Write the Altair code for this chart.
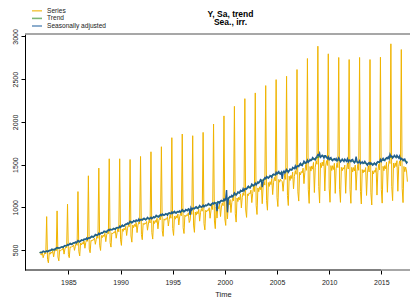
import altair as alt
import pandas as pd

FIRST_YEAR = 1982
FIRST_MONTH = 4  # series starts April 1982, ends July 2017

series_rows = [
    [465, 455, 440, 470, 410, 445, 470, 455, 891],
    [390, 350, 470, 451, 477, 462, 493, 420, 476, 505, 489, 958],
    [418, 373, 504, 492, 502, 502, 529, 452, 512, 537, 525, 1036],
    [446, 410, 537, 529, 542, 541, 561, 496, 544, 583, 555, 1184],
    [484, 431, 581, 559, 587, 569, 606, 521, 588, 615, 602, 1369],
    [510, 468, 613, 605, 619, 618, 640, 567, 623, 668, 637, 1459],
    [556, 495, 670, 644, 676, 657, 696, 598, 675, 706, 691, 1568],
    [586, 534, 701, 690, 707, 702, 728, 638, 702, 751, 714, 1568],
    [620, 554, 746, 718, 755, 735, 778, 670, 755, 790, 773, 1560],
    [664, 592, 793, 762, 800, 774, 821, 704, 791, 827, 807, 1595],
    [682, 621, 812, 797, 815, 807, 834, 732, 804, 858, 816, 1650],
    [704, 628, 842, 810, 847, 823, 871, 748, 841, 878, 855, 1709],
    [725, 660, 865, 848, 868, 861, 890, 781, 857, 915, 872, 1815],
    [752, 671, 897, 861, 901, 874, 923, 793, 889, 927, 901, 1858],
    [762, 693, 908, 891, 912, 904, 936, 822, 846, 962, 917, 1838],
    [792, 707, 945, 909, 950, 924, 976, 838, 939, 984, 955, 1877],
    [810, 736, 965, 946, 969, 962, 995, 872, 958, 1023, 974, 1975],
    [840, 750, 1005, 874, 1011, 982, 1038, 892, 1003, 1049, 1019, 2070],
    [864, 788, 1140, 865, 1055, 1028, 1091, 939, 1056, 1105, 1076, 2182],
    [924, 827, 1110, 1067, 1119, 1088, 1154, 993, 1116, 1168, 1139, 2272],
    [968, 882, 1157, 1137, 1169, 1158, 1201, 1055, 1163, 1241, 1184, 2339],
    [1024, 916, 1227, 1183, 1240, 1207, 1277, 1042, 1237, 1294, 1260, 2425],
    [1080, 966, 1290, 1244, 1300, 1265, 1335, 1149, 1287, 1350, 1308, 2495],
    [1114, 1009, 1326, 1294, 1328, 1311, 1300, 1188, 1309, 1392, 1327, 2534],
    [1139, 1021, 1364, 1314, 1374, 1337, 1412, 1216, 1363, 1429, 1387, 2613],
    [1181, 1073, 1410, 1380, 1419, 1404, 1459, 1277, 1408, 1499, 1433, 2742],
    [1205, 1046, 1477, 1424, 1484, 1447, 1525, 1173, 1469, 1541, 1504, 2886],
    [1244, 1050, 1520, 1465, 1530, 1484, 1556, 1191, 1484, 1546, 1490, 2797],
    [1225, 1059, 1488, 1431, 1487, 1443, 1515, 1163, 1451, 1517, 1465, 2754],
    [1206, 1058, 1468, 1428, 1465, 1446, 1494, 1164, 1436, 1519, 1448, 2730],
    [1209, 1047, 1468, 1413, 1465, 1425, 1494, 1200, 1421, 1503, 1433, 2754],
    [1186, 1039, 1442, 1402, 1438, 1414, 1465, 1139, 1401, 1484, 1414, 2730],
    [1170, 1027, 1427, 1391, 1431, 1410, 1465, 1143, 1412, 1503, 1438, 2757],
    [1209, 1049, 1480, 1428, 1488, 1451, 1528, 1176, 1471, 1544, 1513, 2914],
    [1245, 1078, 1518, 1463, 1520, 1477, 1546, 1188, 1477, 1543, 1483, 2847],
    [1221, 1055, 1478, 1417, 1471, 1425, 1300],
]

trend_rows = [
    [470, 472, 474, 476, 478, 480, 481, 483, 484],
    [485, 488, 491, 494, 497, 500, 503, 506, 509, 512, 515, 518],
    [520, 523, 527, 530, 533, 537, 540, 543, 547, 550, 553, 557],
    [560, 563, 567, 570, 573, 577, 580, 583, 587, 590, 593, 597],
    [600, 603, 607, 610, 613, 617, 620, 623, 627, 630, 633, 637],
    [640, 644, 648, 652, 656, 660, 665, 669, 673, 677, 681, 686],
    [690, 694, 698, 702, 705, 709, 713, 717, 720, 724, 728, 731],
    [735, 738, 741, 744, 747, 750, 753, 755, 758, 761, 764, 767],
    [770, 775, 779, 784, 788, 793, 797, 802, 806, 811, 815, 820],
    [825, 828, 830, 833, 835, 838, 840, 843, 845, 848, 850, 853],
    [855, 857, 858, 860, 862, 863, 865, 867, 868, 870, 872, 873],
    [875, 878, 881, 884, 887, 890, 893, 895, 898, 901, 904, 907],
    [910, 912, 914, 916, 918, 920, 923, 925, 927, 929, 931, 933],
    [935, 937, 938, 940, 942, 943, 945, 947, 948, 950, 952, 953],
    [955, 958, 960, 963, 965, 968, 970, 973, 975, 978, 980, 983],
    [985, 988, 990, 993, 995, 998, 1000, 1003, 1005, 1008, 1010, 1013],
    [1015, 1018, 1020, 1023, 1025, 1028, 1030, 1033, 1035, 1038, 1040, 1043],
    [1045, 1048, 1052, 1055, 1058, 1062, 1065, 1068, 1072, 1075, 1078, 1082],
    [1085, 1090, 1096, 1101, 1107, 1112, 1118, 1123, 1128, 1134, 1139, 1145],
    [1150, 1155, 1161, 1166, 1172, 1177, 1183, 1188, 1193, 1199, 1204, 1210],
    [1215, 1220, 1225, 1230, 1235, 1240, 1245, 1250, 1255, 1260, 1265, 1270],
    [1275, 1281, 1287, 1292, 1298, 1304, 1310, 1316, 1322, 1327, 1333, 1339],
    [1345, 1349, 1353, 1357, 1362, 1366, 1370, 1374, 1378, 1383, 1387, 1391],
    [1395, 1397, 1399, 1401, 1403, 1405, 1408, 1410, 1412, 1414, 1416, 1418],
    [1420, 1425, 1430, 1435, 1440, 1445, 1450, 1455, 1460, 1465, 1470, 1475],
    [1480, 1485, 1490, 1495, 1500, 1505, 1510, 1515, 1520, 1525, 1530, 1535],
    [1540, 1544, 1548, 1553, 1557, 1561, 1565, 1569, 1573, 1578, 1582, 1586],
    [1590, 1594, 1597, 1599, 1600, 1600, 1598, 1595, 1590, 1584, 1578, 1571],
    [1565, 1563, 1562, 1561, 1560, 1559, 1558, 1557, 1556, 1554, 1553, 1552],
    [1550, 1550, 1549, 1549, 1548, 1548, 1547, 1547, 1546, 1546, 1545, 1545],
    [1545, 1543, 1542, 1540, 1538, 1537, 1535, 1533, 1532, 1530, 1528, 1527],
    [1525, 1523, 1522, 1520, 1518, 1517, 1515, 1513, 1512, 1510, 1508, 1507],
    [1505, 1506, 1507, 1508, 1510, 1512, 1515, 1519, 1523, 1528, 1534, 1540],
    [1545, 1549, 1553, 1557, 1561, 1565, 1569, 1573, 1577, 1581, 1585, 1588],
    [1590, 1592, 1593, 1594, 1594, 1593, 1591, 1588, 1584, 1579, 1573, 1566],
    [1560, 1555, 1550, 1545, 1540, 1535, 1530],
]

sa_rows = [
    [477, 470, 468, 477, 487, 483, 477, 482, 490],
    [479, 487, 496, 491, 499, 510, 506, 502, 501, 514, 522, 530],
    [527, 524, 522, 528, 537, 536, 530, 547, 552, 551, 549, 565],
    [557, 569, 578, 566, 565, 579, 586, 582, 594, 584, 597, 611],
    [605, 595, 605, 618, 614, 611, 629, 626, 623, 641, 626, 641],
    [643, 639, 656, 663, 654, 650, 667, 683, 678, 671, 679, 696],
    [682, 692, 704, 698, 707, 722, 717, 711, 709, 727, 737, 729],
    [745, 740, 734, 741, 753, 748, 740, 760, 765, 762, 759, 778],
    [766, 783, 793, 779, 778, 796, 804, 800, 815, 803, 820, 838],
    [831, 817, 827, 843, 837, 831, 852, 847, 840, 862, 841, 858],
    [859, 852, 867, 873, 859, 852, 867, 883, 873, 863, 870, 884],
    [865, 876, 889, 879, 890, 906, 898, 888, 884, 905, 915, 904],
    [922, 914, 905, 912, 925, 918, 907, 931, 936, 930, 925, 947],
    [931, 946, 953, 934, 931, 946, 953, 945, 958, 941, 957, 973],
    [962, 946, 957, 974, 967, 960, 983, 977, 910, 993, 970, 989],
    [989, 982, 1000, 1007, 992, 986, 1002, 1021, 1011, 1000, 1008, 1025],
    [1005, 1016, 1028, 1018, 1028, 1044, 1035, 1026, 1021, 1042, 1051, 1040],
    [1057, 1050, 1043, 955, 1065, 1060, 1049, 1074, 1081, 1076, 1072, 1096],
    [1080, 1101, 1201, 941, 1094, 1116, 1128, 1121, 1140, 1123, 1145, 1169],
    [1158, 1141, 1157, 1179, 1174, 1167, 1199, 1193, 1187, 1217, 1192, 1217],
    [1220, 1213, 1237, 1247, 1231, 1226, 1247, 1272, 1262, 1250, 1263, 1284],
    [1262, 1278, 1297, 1285, 1302, 1325, 1317, 1236, 1304, 1332, 1347, 1335],
    [1361, 1352, 1341, 1352, 1371, 1363, 1349, 1382, 1390, 1384, 1379, 1409],
    [1390, 1409, 1419, 1393, 1389, 1409, 1333, 1407, 1425, 1402, 1423, 1444],
    [1429, 1409, 1426, 1449, 1443, 1435, 1467, 1460, 1453, 1485, 1457, 1483],
    [1486, 1477, 1504, 1515, 1496, 1488, 1513, 1540, 1528, 1514, 1527, 1552],
    [1526, 1541, 1559, 1546, 1561, 1583, 1572, 1559, 1553, 1584, 1597, 1616],
    [1607, 1634, 1584, 1593, 1610, 1597, 1576, 1603, 1603, 1585, 1570, 1591],
    [1559, 1576, 1583, 1553, 1545, 1563, 1569, 1554, 1570, 1541, 1560, 1580],
    [1560, 1533, 1545, 1564, 1551, 1537, 1565, 1553, 1539, 1567, 1531, 1553],
    [1551, 1535, 1556, 1560, 1534, 1520, 1538, 1593, 1540, 1519, 1525, 1544],
    [1511, 1520, 1533, 1513, 1522, 1539, 1522, 1503, 1492, 1516, 1523, 1503],
    [1522, 1509, 1494, 1502, 1520, 1509, 1493, 1527, 1536, 1529, 1526, 1560],
    [1539, 1562, 1574, 1549, 1546, 1569, 1580, 1570, 1591, 1568, 1620, 1598],
    [1600, 1575, 1589, 1609, 1597, 1582, 1609, 1594, 1577, 1600, 1559, 1574],
    [1566, 1547, 1564, 1565, 1536, 1518, 1533],
]

names = ["Series", "Trend", "Seasonally adjusted"]
colors = ["#F0B400", "#4E9A45", "#1F5C91"]
legend_colors = ["#F4CB55", "#7DB676", "#6F98C0"]
x_ticks = [1985, 1990, 1995, 2000, 2005, 2010, 2015]
y_ticks = [500, 1000, 1500, 2000, 2500, 3000]
title_lines = ["Y, Sa, trend", "Sea., irr."]
X_DOM = [1980.84, 2017.75]
Y_DOM = [266, 3029]
FONT = "Liberation Sans"
PLOT_W, PLOT_H = 385, 236


def times_for(rows):
    out = []
    for i, row in enumerate(rows):
        m0 = FIRST_MONTH if i == 0 else 1
        for k in range(len(row)):
            out.append(FIRST_YEAR + i + (m0 - 1 + k) / 12)
    return out


def flat(rows):
    return [v for r in rows for v in r]


frames = []
for nm, rows in zip(names, [series_rows, trend_rows, sa_rows]):
    frames.append(pd.DataFrame({"t": times_for(rows), "v": flat(rows), "s": nm}))
df = pd.concat(frames, ignore_index=True)

xs = alt.Scale(domain=X_DOM, nice=False, zero=False)
ys = alt.Scale(domain=Y_DOM, nice=False, zero=False)
cs = alt.Scale(domain=names, range=colors)

x_axis = alt.Axis(values=x_ticks, format="d", title="Time", tickSize=4, domain=False,
                  grid=False, labelFontSize=7, labelFont=FONT, labelPadding=4,
                  titleFontSize=7.5, titleFont=FONT, titleFontWeight="normal",
                  titlePadding=5, tickColor="#000", labelColor="#222", titleColor="#222",
                  titleX=198, titleAnchor="middle")
y_axis = alt.Axis(values=y_ticks, format="d", title=None, tickSize=4, grid=False,
                  domainColor="#000", tickColor="#000", labelFontSize=7, labelFont=FONT,
                  labelAngle=270, labelAlign="center", labelBaseline="bottom",
                  labelPadding=3, labelColor="#222")

base = alt.Chart(df)


def line_layer(nm, width):
    return base.transform_filter(alt.datum.s == nm).mark_line(strokeWidth=width, clip=True).encode(
        x=alt.X("t:Q", scale=xs, axis=x_axis),
        y=alt.Y("v:Q", scale=ys, axis=y_axis),
        color=alt.Color("s:N", scale=cs, legend=None),
    )


frame_df = pd.DataFrame({
    "x1": [X_DOM[0], 2015, X_DOM[0]],
    "x2": [2015, X_DOM[1], X_DOM[1]],
    "y": [Y_DOM[0], Y_DOM[0], Y_DOM[1]],
    "c": ["#000000", "#8a8a8a", "#8a8a8a"],
    "w": [1.0, 1.5, 1.5],
})
frame_rules = alt.Chart(frame_df).mark_rule().encode(
    x=alt.X("x1:Q", scale=xs, axis=x_axis), x2="x2:Q",
    y=alt.Y("y:Q", scale=ys, axis=y_axis),
    color=alt.Color("c:N", scale=None, legend=None),
    strokeWidth=alt.StrokeWidth("w:Q", scale=None, legend=None),
)

one = pd.DataFrame({"a": [0]})
annotations = []
for line, dy in zip(title_lines, [-20.5, -11.8]):
    annotations.append(
        alt.Chart(one).mark_text(font=FONT, fontSize=8.5, fontWeight="bold", color="#000",
                                 align="center", baseline="middle").encode(
            text=alt.value(line), x=alt.value(PLOT_W / 2 + 13), y=alt.value(dy)))
for nm, col, dy in zip(names, legend_colors, [-23.2, -15.6, -8.0]):
    annotations.append(
        alt.Chart(one).mark_rule(color=col, strokeWidth=1.6).encode(
            x=alt.value(7), x2=alt.value(17), y=alt.value(dy)))
    annotations.append(
        alt.Chart(one).mark_text(font=FONT, fontSize=6.6, color="#222", align="left",
                                 baseline="middle").encode(
            text=alt.value(nm), x=alt.value(22), y=alt.value(dy)))

chart = alt.layer(
    line_layer("Series", 1.0),
    line_layer("Trend", 1.4),
    line_layer("Seasonally adjusted", 1.4),
    frame_rules,
    *annotations,
).properties(
    width=PLOT_W, height=PLOT_H,
    autosize=alt.AutoSizeParams(type="none"),
    padding={"left": 17, "top": 26, "right": 0, "bottom": 27},
).configure_view(stroke=None)

chart.save("out.html", embed_options={"renderer": "svg", "actions": False})
